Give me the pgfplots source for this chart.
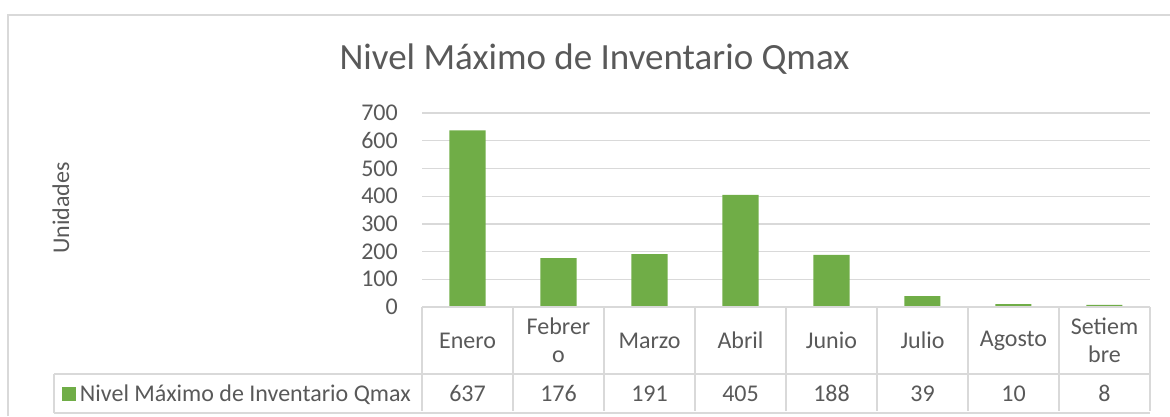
\documentclass[border=0pt]{standalone}
\usepackage{pgfplots}
\pgfplotsset{compat=1.18}
\usepackage{pgfplotstable}
\usepackage{fontspec}
\setmainfont{Carlito}
\definecolor{barg}{HTML}{70AD47}
\definecolor{txt}{HTML}{595959}
\definecolor{gridc}{HTML}{D9D9D9}

\pgfplotstableread{
x value
0 637
1 176
2 191
3 405
4 188
5 39
6 10
7 8
}\data

\begin{document}
\begin{tikzpicture}
\useasboundingbox (0pt,0pt) rectangle (1170pt,416pt);
\draw[gridc, line width=1.3pt] (8pt,0pt) -- (8pt,401pt) -- (1170pt,401pt);
\begin{axis}[
 at={(422pt,109pt)}, anchor=south west,
 scale only axis, width=728pt, height=194pt,
 xmin=-0.5, xmax=7.5, ymin=0, ymax=700,
 ytick={0,100,...,700},
 xtick={0,...,7},
 xticklabels={Enero,{Febrer\\o},Marzo,Abril,Junio,Julio,Agosto,{Setiem\\bre}},
 axis line style={draw=none},
 major tick length=0pt,
 ymajorgrids, grid style={gridc, line width=1.3pt},
 /pgf/number format/assume math mode=true,
 tick label style={font=\fontsize{24}{28}\selectfont, text=txt},
 yticklabel style={anchor=east, inner sep=0pt, xshift=-24pt},
 xticklabel style={anchor=center, align=center, inner sep=0pt, yshift=-33.5pt},
 clip=false,
 legend style={at={(axis description cs:0,0)}, anchor=west, xshift=-360pt, yshift=-86.5pt,
   draw=none, fill=none, inner sep=0pt, outer sep=0pt,
   font=\fontsize{24}{28}\selectfont, text=txt,
   nodes={inner sep=4pt}},
 legend cell align=left,
 legend image code/.code={\fill[barg] (0pt,-7pt) rectangle (14pt,7pt);},
]
\addplot[ybar, bar width=36pt, fill=barg, draw=none] table[x=x,y=value]{\data};
\addlegendentry{Nivel Máximo de Inventario Qmax}
\addplot[draw=none, mark=none, forget plot, nodes near coords, point meta=explicit,
  every node near coord/.append style={anchor=center, yshift=-86.5pt,
  font=\fontsize{24}{28}\selectfont, text=txt, inner sep=0pt}]
  table[x=x, y expr=0, meta=value]{\data};
\draw[gridc, line width=1.3pt] (axis cs:-0.5,0) -- (axis cs:7.5,0);
\pgfplotsinvokeforeach{-0.5,0.5,1.5,2.5,3.5,4.5,5.5,6.5,7.5}{
  \draw[gridc, line width=1.3pt] (axis cs:#1,0) -- ++(0pt,-104pt);
}
\end{axis}
\draw[gridc, line width=1.3pt] (54pt,42pt) -- (1150pt,42pt);
\draw[gridc, line width=1.3pt] (54pt,3pt) -- (1150pt,3pt) (54pt,3pt) -- (54pt,42pt);
\node[anchor=base, font=\fontsize{37}{41}\selectfont, text=txt] at (594.5pt,346pt) {Nivel Máximo de Inventario Qmax};
\node[rotate=90, font=\fontsize{24}{28}\selectfont, text=txt] at (61pt,208pt) {Unidades};
\end{tikzpicture}
\end{document}
